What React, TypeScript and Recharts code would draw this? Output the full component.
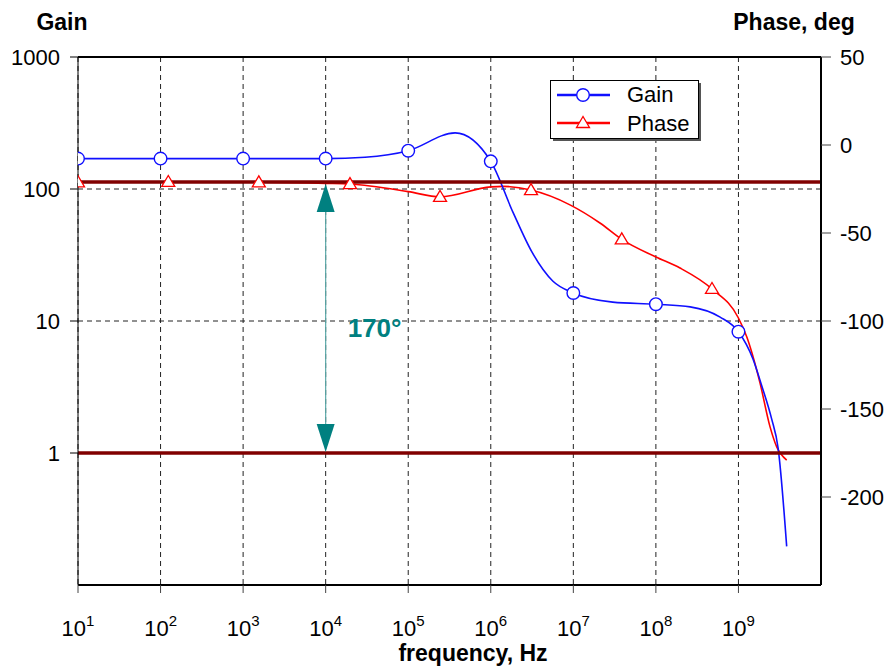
import React from "react";
import {
  ComposedChart,
  Line,
  XAxis,
  YAxis,
  CartesianGrid,
  ReferenceLine,
  Legend,
} from "recharts";

// Bode plot samples: frequency in Hz, gain (log scale) and phase in degrees
const gainFreqs = [
  10, 100, 1e3, 1e4, 3e4, 1e5, 3.7e5, 1e6, 1.86e6, 3.16e6, 5.67e6, 1e7, 3e7,
  1e8, 2.6e8, 6e8, 1e9, 1.5e9, 1.91e9, 2.52e9, 3.03e9, 3.84e9,
];
const gainValues = [
  170, 170, 170, 170, 174, 195, 266, 162, 66.5, 33.2, 20, 16.3, 13.9, 13.4,
  12.8, 10.7, 8.3, 5.16, 3.25, 1.82, 1.08, 0.196,
];
const gainMarkers = [10, 100, 1e3, 1e4, 1e5, 1e6, 1e7, 1e8, 1e9];

const phaseFreqs = [
  10, 124, 1550, 1e4, 1.97e4, 1e5, 2.43e5, 1e6, 1.4e6, 3.07e6, 9.1e6, 2.1e7,
  3.86e7, 1e8, 1.96e8, 4.78e8, 1e9, 1.26e9, 1.82e9, 2.41e9, 2.9e9, 3.84e9,
];
const phaseValues = [
  -21.2, -21, -21.2, -21.8, -22.2, -26.5, -29.5, -23.8, -23.5, -25.6, -34,
  -44.3, -53.6, -63.6, -69.9, -81.8, -98.3, -109, -135, -160, -171.4, -179,
];
const phaseMarkers = [10, 124, 1550, 1.97e4, 2.43e5, 3.07e6, 3.86e7, 4.78e8];

const freqTicks = [10, 100, 1e3, 1e4, 1e5, 1e6, 1e7, 1e8, 1e9];
const gainTicks = [1, 10, 100, 1000];
const phaseTicks = [-200, -150, -100, -50, 0, 50];

// phase levels bracketing the margin arrow
const phaseTop = -21;
const phaseBottom = -175;
const marginFreq = 1e4;
const marginLabel = "170°";

const gainData = gainFreqs.map((f, i) => ({
  f,
  gain: gainValues[i],
  m: gainMarkers.includes(f),
}));
const phaseData = phaseFreqs.map((f, i) => ({
  f,
  phase: phaseValues[i],
  m: phaseMarkers.includes(f),
}));

const FONT = "'Liberation Sans', Arial, sans-serif";
const BLUE = "#1010ff";
const RED = "#ff0000";
const DARK_RED = "#800000";
const TEAL = "#008080";

const GainDot = (props: any) => {
  const { cx, cy, payload, index } = props;
  if (!payload.m) return <g key={`gd${index}`} />;
  return (
    <circle
      key={`gd${index}`}
      cx={cx}
      cy={cy}
      r={6.3}
      fill="#fff"
      stroke={BLUE}
      strokeWidth={1.4}
    />
  );
};

const PhaseDot = (props: any) => {
  const { cx, cy, payload, index } = props;
  if (!payload.m) return <g key={`pd${index}`} />;
  return (
    <polygon
      key={`pd${index}`}
      points={`${cx},${cy - 6.5} ${cx - 6.5},${cy + 4.5} ${cx + 6.5},${cy + 4.5}`}
      fill="#fff"
      stroke={RED}
      strokeWidth={1.3}
    />
  );
};

const FreqTick = (props: any) => {
  const { x, y, payload } = props;
  const exp = Math.round(Math.log10(payload.value));
  return (
    <text
      x={x}
      y={y + 41}
      textAnchor="middle"
      fontFamily={FONT}
      fontSize={22}
      fill="#000"
    >
      <tspan>10</tspan>
      <tspan dy={-10} fontSize={15}>
        {exp}
      </tspan>
    </text>
  );
};

// double-headed arrow with its annotation
const MarginArrow = (props: any) => {
  const { x1, y1, y2 } = props;
  const x = x1;
  const top = Math.min(y1, y2) + 2;
  const bottom = Math.max(y1, y2) - 1;
  const h = 28;
  const w = 9;
  return (
    <g>
      <line x1={x} y1={top + h} x2={x} y2={bottom - h} stroke="#5aa8a8" strokeWidth={1.2} />
      <polygon points={`${x},${top} ${x - w},${top + h} ${x + w},${top + h}`} fill={TEAL} />
      <polygon
        points={`${x},${bottom} ${x - w},${bottom - h} ${x + w},${bottom - h}`}
        fill={TEAL}
      />
      <text
        x={x + 22}
        y={(top + bottom) / 2 + 19}
        fontFamily={FONT}
        fontWeight="bold"
        fontSize={26}
        fill={TEAL}
      >
        {marginLabel}
      </text>
    </g>
  );
};

const LegendBox = () => (
  <svg width={154} height={64}>
    <rect x={3} y={3} width={148} height={58} fill="#555" />
    <rect x={0.5} y={0.5} width={148} height={58} fill="#fff" stroke="#000" strokeWidth={1} />
    <line x1={7} y1={15} x2={60} y2={15} stroke={BLUE} strokeWidth={2.5} />
    <circle cx={33} cy={15} r={6.3} fill="#fff" stroke={BLUE} strokeWidth={1.4} />
    <text x={77} y={22} fontFamily={FONT} fontSize={22} fill="#000">
      Gain
    </text>
    <line x1={7} y1={43} x2={60} y2={43} stroke={RED} strokeWidth={2.5} />
    <polygon points="33,36.5 26.5,47.5 39.5,47.5" fill="#fff" stroke={RED} strokeWidth={1.3} />
    <text x={77} y={51} fontFamily={FONT} fontSize={22} fill="#000">
      Phase
    </text>
  </svg>
);

export default function App() {
  return (
    <div style={{ position: "absolute", left: 0, top: 0, background: "#fff" }}>
      <ComposedChart
        width={891}
        height={668}
        margin={{ top: 57, right: 10, bottom: 0, left: 0 }}
      >
        <CartesianGrid
          yAxisId="gain"
          stroke="#222"
          strokeDasharray="5 4"
          strokeWidth={1}
        />
        <XAxis
          xAxisId={0}
          type="number"
          dataKey="f"
          scale="log"
          domain={[10, 1e10]}
          ticks={freqTicks}
          allowDataOverflow
          height={83}
          tickSize={8}
          axisLine={{ stroke: "#000", strokeWidth: 2 }}
          tickLine={{ stroke: "#444" }}
          tick={<FreqTick />}
          label={() => (
            <text
              x={473}
              y={661}
              textAnchor="middle"
              fontFamily={FONT}
              fontWeight="bold"
              fontSize={23}
              fill="#000"
            >
              frequency, Hz
            </text>
          )}
        />
        <YAxis
          yAxisId="gain"
          scale="log"
          domain={[0.1, 1000]}
          ticks={gainTicks}
          allowDataOverflow
          width={78}
          tickSize={8}
          tickMargin={10}
          axisLine={{ stroke: "#000", strokeWidth: 1 }}
          tickLine={{ stroke: "#000" }}
          tick={{ fontFamily: FONT, fontSize: 22, fill: "#000" }}
          label={() => (
            <text x={62} y={30} textAnchor="middle" fontFamily={FONT} fontWeight="bold" fontSize={23} fill="#000">
              Gain
            </text>
          )}
        />
        <YAxis
          yAxisId="phase"
          orientation="right"
          domain={[-250, 50]}
          ticks={phaseTicks}
          allowDataOverflow
          width={60}
          tickSize={10}
          tickMargin={9}
          axisLine={{ stroke: "#000", strokeWidth: 2 }}
          tickLine={{ stroke: "#444" }}
          tick={{ fontFamily: FONT, fontSize: 22, fill: "#000" }}
          label={() => (
            <text x={794} y={30} textAnchor="middle" fontFamily={FONT} fontWeight="bold" fontSize={23} fill="#000">
              Phase, deg
            </text>
          )}
        />
        <ReferenceLine yAxisId="gain" y={1000} stroke="#000" strokeWidth={2} />
        <Line
          yAxisId="phase"
          data={phaseData}
          dataKey="phase"
          type="monotone"
          stroke={RED}
          strokeWidth={1.6}
          dot={PhaseDot}
          activeDot={false}
          isAnimationActive={false}
        />
        <Line
          yAxisId="gain"
          data={gainData}
          dataKey="gain"
          type="monotone"
          stroke={BLUE}
          strokeWidth={1.6}
          dot={GainDot}
          activeDot={false}
          isAnimationActive={false}
        />
        <ReferenceLine yAxisId="phase" y={phaseTop} stroke={DARK_RED} strokeWidth={3.5} />
        <ReferenceLine yAxisId="phase" y={phaseBottom} stroke={DARK_RED} strokeWidth={3.5} />
        <ReferenceLine
          yAxisId="phase"
          segment={[
            { x: marginFreq, y: phaseTop },
            { x: marginFreq, y: phaseBottom },
          ]}
          shape={<MarginArrow />}
        />
        <Legend
          layout="vertical"
          align="center"
          verticalAlign="middle"
          wrapperStyle={{ left: 550, top: 80, width: 154, height: 64 }}
          content={() => <LegendBox />}
        />
      </ComposedChart>
    </div>
  );
}
